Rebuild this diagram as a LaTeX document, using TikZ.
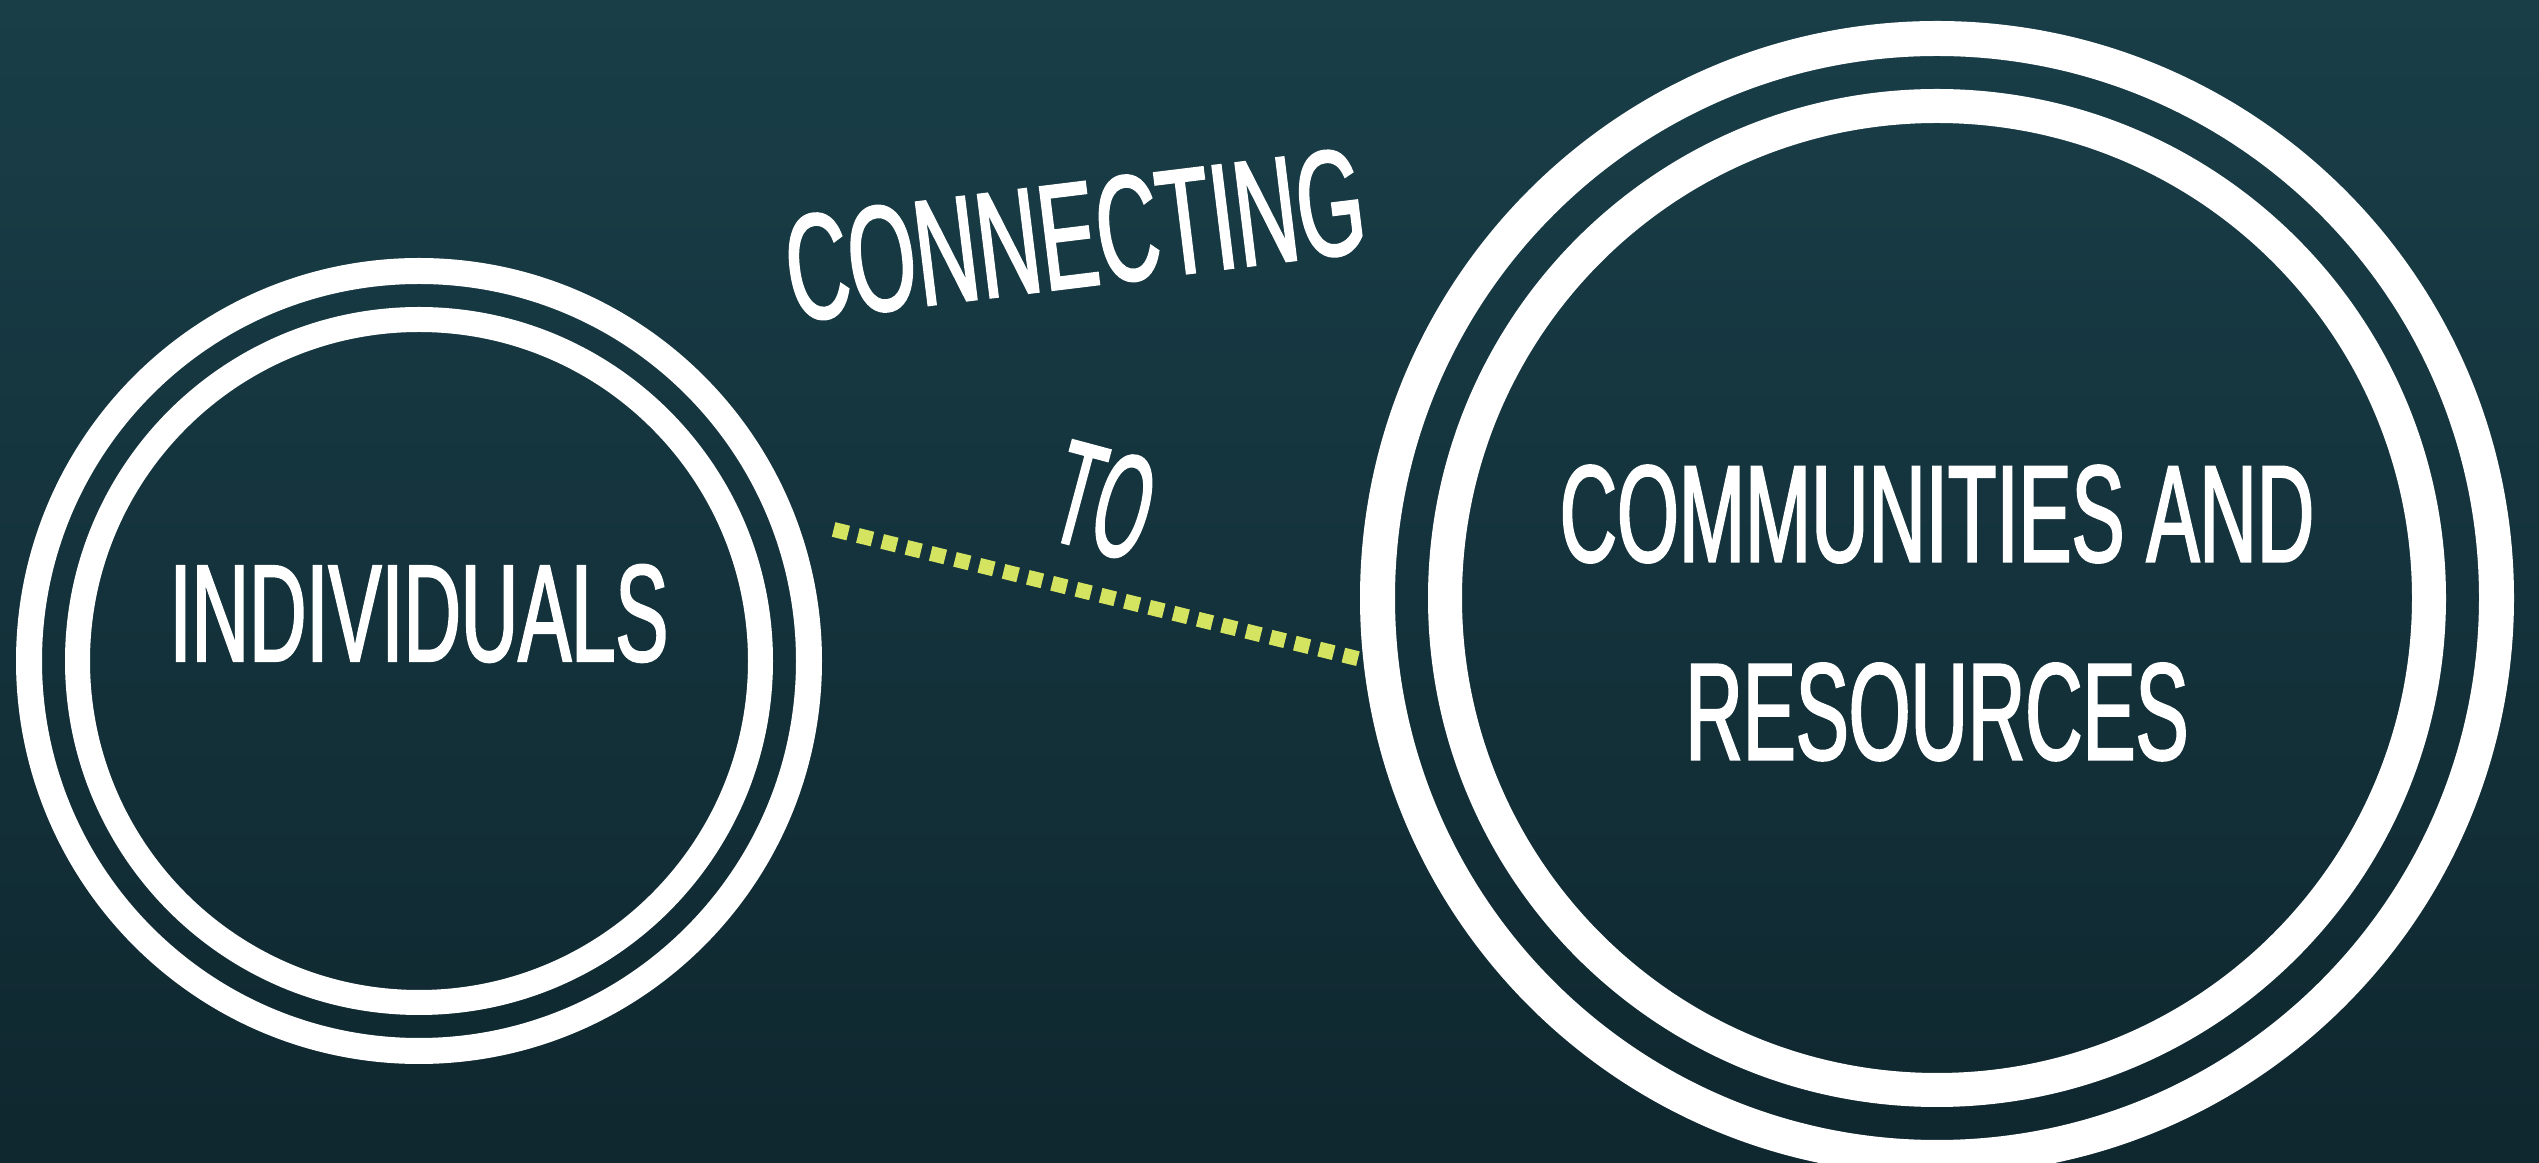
\documentclass[tikz,border=0pt]{standalone}
\usepackage{fontspec}
\setmainfont{Liberation Sans}[FakeStretch=0.575, FakeBold=1.5]
\newfontfamily\tofont{Liberation Sans}[FakeStretch=0.47, FakeBold=1.5]
\usetikzlibrary{calc}

\definecolor{bgtop}{RGB}{25,62,72}
\definecolor{bgbottom}{RGB}{15,39,47}
\definecolor{dotgreen}{RGB}{212,228,96}

\begin{document}
\begin{tikzpicture}[
    ring/.style={draw=white},
    caption/.style={text=white, inner sep=0pt, align=center},
    dotline/.style={draw=dotgreen, line width=0.15cm, dash pattern=on 0.15cm off 0.10cm}
  ]
  % Background
  \useasboundingbox (0,0) rectangle (25.39,11.63);
  \clip (0,0) rectangle (25.39,11.63);
  \shade[top color=bgtop, bottom color=bgbottom] (0,0) rectangle (25.39,11.63);

  % Circle centres
  \coordinate (indiv) at (4.19,5.02);
  \coordinate (comm) at (19.37,5.65);

  % Rings round individuals
  \draw[ring, line width=0.26cm] (indiv) circle (3.90);
  \draw[ring, line width=0.25cm] (indiv) circle (3.415);

  % Rings round communities and resources
  \draw[ring, line width=0.35cm] (comm) circle (5.595);
  \draw[ring, line width=0.34cm] (comm) circle (4.92);

  % Labels
  \node[caption, anchor=base, font=\fontsize{39.3}{56.3}\selectfont] (indivtext) at (indiv) {INDIVIDUALS};
  \node[caption, font=\fontsize{39.3}{56.3}\selectfont] (commtext) at ($(comm)+(0,-0.15)$) {COMMUNITIES AND\\RESOURCES};
  \node[caption, rotate=7, font=\fontsize{42.8}{50}\selectfont] (connecting) at (10.75,9.28) {CONNECTING};
  \node[caption, rotate=-15, font=\tofont\fontsize{42}{48}\selectfont] (to) at (11.04,6.62) {TO};

  % Dotted link
  \coordinate (dotstart) at ($(indiv)+(17.6:4.35)$);
  \coordinate (dotend) at ($(comm)+(186.1:5.79)$);
  \draw[dotline] (dotstart) -- (dotend);
\end{tikzpicture}
\end{document}
